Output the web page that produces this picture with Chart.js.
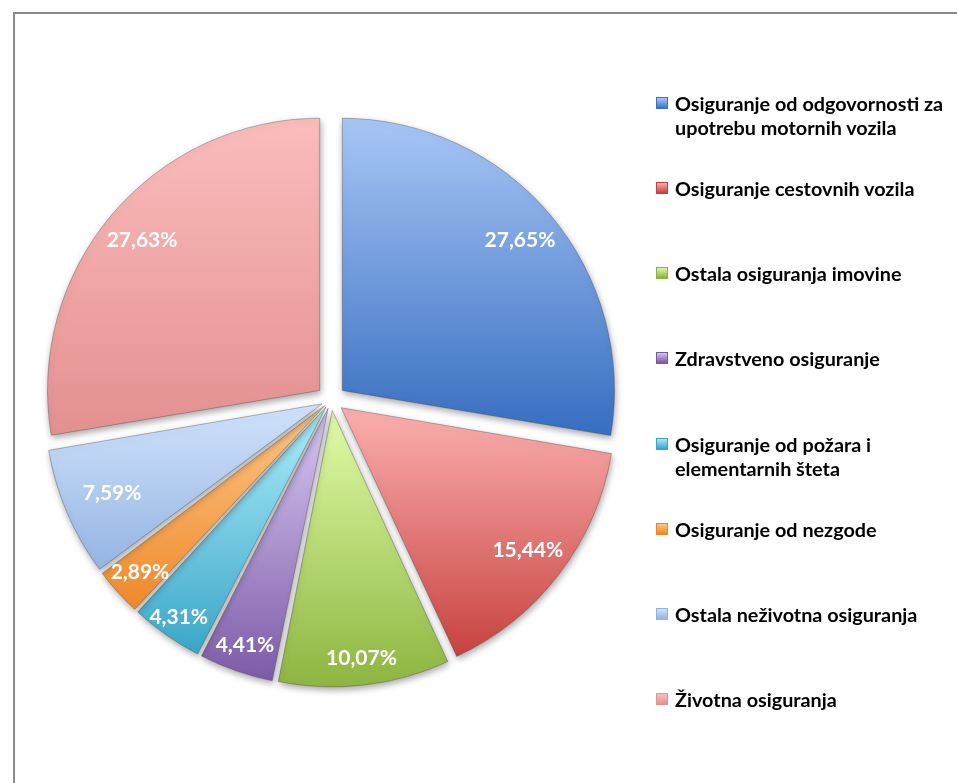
<!DOCTYPE html>
<html>
<head>
<meta charset="utf-8">
<script src="https://cdn.jsdelivr.net/npm/chart.js@4"></script>
<style>
  html, body { margin: 0; padding: 0; background: #fff; overflow: hidden; }
  #wrap { position: relative; width: 957px; height: 783px; }
  #frame { position: absolute; left: 13px; top: 12px; width: 2000px; height: 2000px;
           border-left: 2px solid #8a8a8a; border-top: 2px solid #8a8a8a; }
  #pie { position: absolute; left: 0; top: 0; }
  #legend { position: absolute; left: 656px; top: 0; font-family: Lato, "Open Sans", sans-serif;
            font-weight: bold; font-size: 19.8px; color: #000; }
  .item { position: absolute; left: 0; width: 300px; line-height: 24px; white-space: nowrap; }
  .box { position: absolute; left: 0; top: 6px; width: 12px; height: 12px; box-sizing: border-box; }
  .txt { position: absolute; left: 19px; top: 0; }
</style>
</head>
<body>
<div id="wrap">
  <div id="frame"></div>
  <canvas id="pie" width="957" height="783"></canvas>
  <div id="legend"></div>
</div>
<script>
// STRUKTURA PREMIJE
const categories = [
    ['Osiguranje od odgovornosti za', 'upotrebu motornih vozila'],
    ['Osiguranje cestovnih vozila'],
    ['Ostala osiguranja imovine'],
    ['Zdravstveno osiguranje'],
    ['Osiguranje od požara i', 'elementarnih šteta'],
    ['Osiguranje od nezgode'],
    ['Ostala neživotna osiguranja'],
    ['Životna osiguranja']
];
const shares = [27.65, 15.44, 10.07, 4.41, 4.31, 2.89, 7.59, 27.63];

// light (top) and dark (bottom) colour of each slice
const lightColors = ['#abc9f7', '#f9acab', '#ddf8a3', '#d4c3f0', '#a9eaf9', '#fdc583', '#cfe1fb', '#fcbebe'];
const darkColors  = ['#3a70c2', '#c63f3c', '#8ab23c', '#7a58a4', '#37a4c5', '#ee8628', '#92b3e2', '#e49191'];
const labelRadius = [0.855, 0.855, 0.9, 0.9, 0.92, 0.89, 0.82, 0.855];

const RADIUS = 272;
const EXPLODE = 15;

const total = shares.reduce((a, b) => a + b, 0);

// gradient over the vertical extent of a slice
function sliceGradient(context) {
    const chart = context.chart;
    const area = chart.chartArea;
    if (!area) return lightColors[context.dataIndex];
    const i = context.dataIndex;
    const before = shares.slice(0, i).reduce((a, b) => a + b, 0);
    const a0 = before / total * Math.PI * 2 - Math.PI / 2;
    const a1 = (before + shares[i]) / total * Math.PI * 2 - Math.PI / 2;
    const mid = (a0 + a1) / 2;
    const cx = (area.left + area.right) / 2 + Math.cos(mid) * EXPLODE;
    const cy = (area.top + area.bottom) / 2 + Math.sin(mid) * EXPLODE;
    let minY = cy, maxY = cy;
    for (let k = 0; k <= 24; k++) {
        const a = a0 + (a1 - a0) * k / 24;
        const y = cy + Math.sin(a) * RADIUS;
        minY = Math.min(minY, y);
        maxY = Math.max(maxY, y);
    }
    const g = chart.ctx.createLinearGradient(0, minY, 0, maxY);
    g.addColorStop(0, lightColors[i]);
    g.addColorStop(1, darkColors[i]);
    return g;
}

// Chart.js moves an arc by offset/4 (more for thin slices), so undo that
function sliceOffset(context) {
    const circ = shares[context.dataIndex] / total * Math.PI * 2;
    const fix = 1 - Math.sin(Math.min(Math.PI, circ));
    return EXPLODE * 4 / (1 + fix);
}

const shadowPlugin = {
    id: 'shadow',
    beforeDatasetsDraw(chart) {
        const ctx = chart.ctx;
        ctx.save();
        ctx.shadowColor = 'rgba(0,0,0,0.35)';
        ctx.shadowBlur = 7;
        ctx.shadowOffsetX = 1;
        ctx.shadowOffsetY = 3;
    },
    afterDatasetsDraw(chart) {
        const ctx = chart.ctx;
        ctx.restore();
        const arcs = chart.getDatasetMeta(0).data;
        ctx.save();
        ctx.font = 'bold 21px Lato, "Open Sans", sans-serif';
        ctx.fillStyle = '#ffffff';
        ctx.textAlign = 'center';
        ctx.textBaseline = 'middle';
        arcs.forEach((arc, i) => {
            const mid = (arc.startAngle + arc.endAngle) / 2;
            const cx = arc.x + Math.cos(mid) * EXPLODE;
            const cy = arc.y + Math.sin(mid) * EXPLODE;
            const r = arc.outerRadius * labelRadius[i];
            const text = shares[i].toFixed(2).replace('.', ',') + '%';
            ctx.fillText(text, cx + Math.cos(mid) * r, cy + Math.sin(mid) * r);
        });
        ctx.restore();
    }
};

const pieCtx = document.getElementById('pie').getContext('2d');

const pieChart = new Chart(pieCtx, {
    type: 'pie',
    data: {
        labels: categories.map(c => c.join(' ')),
        datasets: [{
            data: shares,
            backgroundColor: sliceGradient,
            borderColor: 'rgba(60,60,60,0.35)',
            borderWidth: 1,
            offset: sliceOffset,
            hoverOffset: 0
        }]
    },
    options: {
        responsive: false,
        animation: false,
        radius: RADIUS,
        layout: { padding: { left: 0, right: 295, top: 17, bottom: 0 } },
        plugins: {
            legend: { display: false },
            tooltip: { enabled: false }
        },
        events: []
    },
    plugins: [shadowPlugin]
});

// legend on the right
const legendEl = document.getElementById('legend');
categories.forEach((lines, i) => {
    const item = document.createElement('div');
    item.className = 'item';
    item.style.top = (91 + i * 85.14) + 'px';
    const box = document.createElement('div');
    box.className = 'box';
    box.style.background = 'linear-gradient(to bottom, ' + lightColors[i] + ', ' + darkColors[i] + ')';
    box.style.border = '1px solid ' + darkColors[i];
    const txt = document.createElement('div');
    txt.className = 'txt';
    txt.innerHTML = lines.join('<br>');
    item.appendChild(box);
    item.appendChild(txt);
    legendEl.appendChild(item);
});
</script>
</body>
</html>
